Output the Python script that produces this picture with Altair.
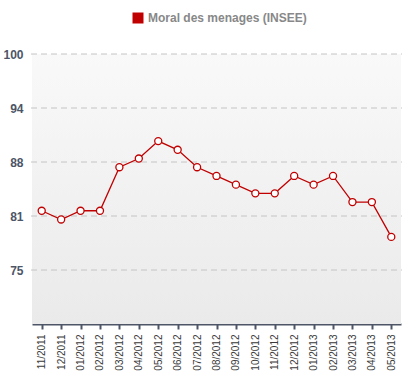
import altair as alt
import pandas as pd

months = ["11/2011", "12/2011", "01/2012", "02/2012", "03/2012", "04/2012", "05/2012",
          "06/2012", "07/2012", "08/2012", "09/2012", "10/2012", "11/2012", "12/2012",
          "01/2013", "02/2013", "03/2013", "04/2013", "05/2013"]
values = [82, 81, 82, 82, 87, 88, 90, 89, 87, 86, 85, 84, 84, 86, 85, 86, 83, 83, 79]
series_name = "Moral des menages (INSEE)"
y_ticks = [75.2, 81.4, 87.6, 93.8, 100]

df = pd.DataFrame({"month": months, "value": values, "series": [series_name] * len(months)})
grid_df = pd.DataFrame({"value": y_ticks})

RED = "#c00000"
FONT = "Liberation Sans"
W, H = 369, 270

y_scale = alt.Scale(domain=[69, 100], nice=False, zero=False)
y_axis = alt.Axis(values=y_ticks, format=".0f", labelFontSize=12,
                  labelFontWeight="bold", labelColor="#4d5566", labelFont=FONT,
                  labelPadding=9, domain=False, ticks=False, grid=False)

x_enc = alt.X("month:N", sort=months, title=None,
              scale=alt.Scale(paddingInner=0, paddingOuter=0),
              axis=alt.Axis(labelAngle=270, labelFontSize=10, labelColor="#3a3a3a",
                            labelFont=FONT, labelPadding=5,
                            domainColor="#4d5566", domainWidth=2,
                            tickColor="#4d5566", tickSize=5, tickWidth=2,
                            grid=False))
y_enc = alt.Y("value:Q", title=None, scale=y_scale, axis=y_axis)

bg = alt.Chart(pd.DataFrame({"a": [0]})).mark_rect(
    color=alt.Gradient(gradient="linear", x1=0, x2=0, y1=0, y2=1,
                       stops=[alt.GradientStop(color="#f9f9f9", offset=0),
                              alt.GradientStop(color="#eaeaea", offset=1)])
).encode(x=alt.value(0), x2=alt.value(W), y=alt.value(0), y2=alt.value(H))

grid = alt.Chart(grid_df).mark_rule(color="#c4c4c4", strokeDash=[6, 4], strokeWidth=1).encode(
    y=y_enc,
    x=alt.value(-1), x2=alt.value(W + 1),
)

base = alt.Chart(df)

line = base.mark_line(strokeWidth=1.3).encode(
    x=x_enc, y=y_enc,
    color=alt.Color("series:N", scale=alt.Scale(range=[RED]),
                    legend=alt.Legend(title=None, orient="none", legendX=100, legendY=-42,
                                      symbolType="square", symbolSize=121,
                                      symbolFillColor=RED, symbolStrokeColor=RED,
                                      symbolStrokeWidth=0, padding=0,
                                      labelFontSize=12, labelFontWeight="bold",
                                      labelColor="#888888", labelFont=FONT, labelOffset=4))
)
points = base.mark_point(filled=False, fill="white", stroke=RED, strokeWidth=1.3,
                         size=50, opacity=1, shape="circle").encode(x=x_enc, y=y_enc)

chart = (bg + grid + line + points).properties(
    width=W, height=H,
    padding={"left": 32, "top": 54, "right": 16, "bottom": 53},
    autosize=alt.AutoSizeParams(type="none"),
).configure_view(strokeWidth=0)

chart.save("out.html", embed_options={"renderer": "svg", "actions": False})
